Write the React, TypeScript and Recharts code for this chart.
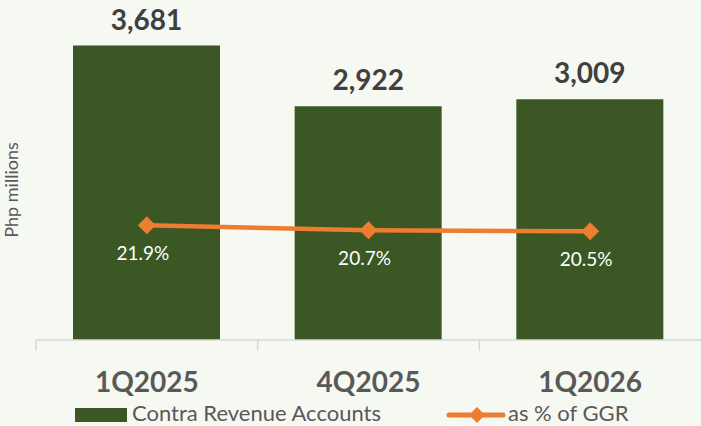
import React from 'react';
import { ComposedChart, Bar, Line, XAxis, YAxis, Legend, LabelList } from 'recharts';

// values
const quarters = ['1Q2025', '4Q2025', '1Q2026'];
const contraRevenue = [3681, 2922, 3009];
const pctOfGgr = [21.9, 20.7, 20.5];

const data = quarters.map((q, i) => ({ quarter: q, contra: contraRevenue[i], pct: pctOfGgr[i] }));

const GREEN = '#3A5724';
const ORANGE = '#ED7D31';
const GRAY = '#595959';
const FONT = 'Lato, "Open Sans", sans-serif';
const BAND = 665 / 3;

// category label plus the boundary tick mark on its left side
const CategoryTick = (props: any) => {
  const { x, y, payload } = props;
  return (
    <g>
      <line x1={x - BAND / 2} x2={x - BAND / 2} y1={y} y2={y + 11} stroke="#D9D9D9" strokeWidth={1.5} />
      <text x={x} y={y + 52} textAnchor="middle" fill={GRAY} style={{ fontFamily: FONT, fontWeight: 700, fontSize: 28 }}>
        {payload.value}
      </text>
    </g>
  );
};

const Diamond = (props: any) => {
  const { cx, cy } = props;
  if (cx == null || cy == null) return null;
  const r = 9;
  return <polygon points={`${cx},${cy - r} ${cx + r},${cy} ${cx},${cy + r} ${cx - r},${cy}`} fill={ORANGE} />;
};

const PctLabel = (props: any) => {
  const { x, y, value } = props;
  return (
    <text x={x - 4} y={y + 35} textAnchor="middle" fill="#FFFFFF" style={{ fontFamily: FONT, fontSize: 19 }}>
      {`${Number(value).toFixed(1)}%`}
    </text>
  );
};

const LegendContent = () => (
  <div style={{ position: 'relative', height: 26, fontFamily: FONT, fontSize: 22, color: GRAY }}>
    <div style={{ position: 'absolute', left: 75, top: 8, width: 52, height: 14, background: GREEN }} />
    <span style={{ position: 'absolute', left: 132, top: 2, lineHeight: '22px', whiteSpace: 'nowrap' }}>
      Contra Revenue Accounts
    </span>
    <svg style={{ position: 'absolute', left: 446, top: 3 }} width={60} height={24}>
      <line x1={3} x2={57} y1={12} y2={12} stroke={ORANGE} strokeWidth={5} strokeLinecap="round" />
      <polygon points="31,4 39,12 31,20 23,12" fill={ORANGE} />
    </svg>
    <span style={{ position: 'absolute', left: 508, top: 2, lineHeight: '22px', whiteSpace: 'nowrap' }}>
      as % of GGR
    </span>
  </div>
);

const PhpLabel = () => (
  <text transform="translate(18,190) rotate(-90)" textAnchor="middle" fill={GRAY} style={{ fontFamily: FONT, fontSize: 18 }}>
    Php millions
  </text>
);

export default function App() {
  return (
    <div style={{ position: 'absolute', left: 0, top: 0, width: 701, height: 426, background: '#F6F8F2', overflow: 'hidden' }}>
      <ComposedChart width={701} height={426} data={data} margin={{ top: 20, right: 0, bottom: 0, left: 0 }}>
        <XAxis
          dataKey="quarter"
          height={60}
          tickLine={false}
          tickSize={0}
          tickMargin={0}
          axisLine={{ stroke: '#D9D9D9', strokeWidth: 1.5 }}
          tick={<CategoryTick />}
          interval={0}
        />
        <YAxis
          yAxisId="php"
          width={36}
          domain={[0, 4000]}
          tick={false}
          tickLine={false}
          axisLine={false}
          label={{ position: 'center', content: PhpLabel }}
        />
        <YAxis yAxisId="pct" orientation="right" hide domain={[-5, 70]} />
        <Legend verticalAlign="bottom" height={26} content={LegendContent} />
        <Bar yAxisId="php" dataKey="contra" name="Contra Revenue Accounts" fill={GREEN} barSize={147} isAnimationActive={false}>
          <LabelList
            dataKey="contra"
            position="top"
            offset={16}
            fill="#404040"
            style={{ fontFamily: FONT, fontWeight: 700, fontSize: 28 }}
            formatter={(v: any) => Number(v).toLocaleString('en-US')}
          />
        </Bar>
        <Line
          yAxisId="pct"
          dataKey="pct"
          name="as % of GGR"
          stroke={ORANGE}
          strokeWidth={4.5}
          dot={<Diamond />}
          activeDot={false}
          isAnimationActive={false}
        >
          <LabelList dataKey="pct" content={<PctLabel />} />
        </Line>
      </ComposedChart>
    </div>
  );
}
